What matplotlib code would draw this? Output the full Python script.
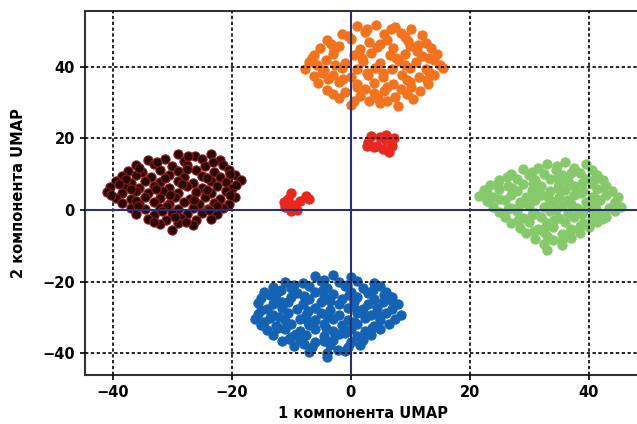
import numpy as np
import matplotlib.pyplot as plt

# cluster points (x = 1 компонента, y = 2 компонента)
orange_pts = [
    (1, 51.5), (4.2, 51.8), (7.5, 51), (10.2, 50.6),
    (-1.5, 49.3), (2.5, 49.8), (5.6, 49.2), (8.4, 49.6), (12, 48.8),
    (-4, 47.4), (0, 47.8), (3.1, 47), (6.2, 47.6), (9.6, 47.2), (12.6, 46.8),
    (-5.2, 45.3), (-2, 45.8), (1.6, 45.1), (4.5, 45.6), (7.1, 45.2), (10, 45.7), (13.5, 45.2),
    (-6.1, 43.4), (-3, 43.7), (0.5, 43.2), (3.5, 43.8), (6.6, 43.3), (9.1, 43.6), (12, 43.1), (14.6, 43.5),
    (-7, 41.4), (-4.1, 41.8), (-1, 41.2), (2, 41.6), (5, 41.1), (8.1, 41.7), (11, 41.3), (14, 41.8),
    (-7.6, 39.5), (-4.5, 39.2), (-1.5, 39.7), (1, 39.3), (4.1, 39.8), (7, 39.4), (10, 39.8), (12.6, 39.3), (15.5, 39.7),
    (-6.2, 37.4), (-3, 37.8), (0, 37.2), (3, 37.6), (5.5, 37.1), (8.6, 37.7), (11.5, 37.3), (14.1, 37.6),
    (-5.5, 35.4), (-2, 35.8), (1, 35.2), (4, 35.6), (7.1, 35.1), (10, 35.7), (13, 35.3),
    (-4, 33.5), (-1, 33.1), (2.5, 33.8), (5.6, 33.3), (8.5, 33.7), (11.6, 33.2),
    (-2, 31.4), (1.5, 31.8), (4.6, 31.2), (7.5, 31.6), (10.5, 31.1),
    (0, 29.4), (5, 29.8), (8, 29.2),
    (-0.5, 48.6), (6.8, 50.5), (-2.8, 44.6), (11.2, 44.4), (-5.6, 40.6), (2.8, 38.4),
    (12.9, 36.2), (-3.8, 36.6), (6.2, 34.4), (3.1, 30.6),
    (2.8, 50.7), (9.2, 48.3), (-3.3, 46.4), (5, 46.5), (11.4, 46.1), (-6.5, 42.5),
    (1.9, 42.6), (7.6, 42.5), (13.2, 42.5), (-2.6, 40.5), (9.1, 40.6), (15, 40.4),
    (-4.8, 38.4), (5.4, 38.4), (13.2, 38.5), (-1.2, 36.5), (9.5, 36.4), (1, 34.4),
    (10.2, 34.5), (-3, 32.5), (4, 32.6), (9.4, 32.5), (6.2, 30.4), (0.5, 30.5),
]
brown_pts = [
    (-29, 15.6), (-26.1, 15.2), (-23.5, 15.7),
    (-34, 14), (-31.2, 14.4), (-28, 13.8), (-25, 14.2), (-22, 13.9),
    (-36, 12.5), (-33, 12.8), (-30, 12.2), (-27.5, 12.6), (-24.5, 12.3), (-21.5, 12.7),
    (-37.5, 11), (-35, 10.7), (-32, 11.3), (-29, 10.8), (-26, 11.2), (-23, 10.7), (-20.5, 11.1),
    (-38.5, 9.5), (-36, 9.8), (-33.5, 9.3), (-30.5, 9.7), (-28, 9.2), (-25, 9.6), (-22, 9.3), (-19.5, 9.8),
    (-39.5, 8), (-37, 7.7), (-34.5, 8.2), (-32, 7.8), (-29, 8.2), (-26.5, 7.7), (-23.5, 8.1), (-21, 7.8), (-18.5, 8.3),
    (-40.5, 6.5), (-38, 6.8), (-35.5, 6.3), (-33, 6.7), (-30.5, 6.2), (-27.5, 6.6), (-25, 6.2), (-22.5, 6.7), (-20, 6.3),
    (-41, 5), (-38.5, 4.7), (-36, 5.2), (-34, 4.8), (-31.5, 5.2), (-29, 4.7), (-26, 5.1), (-23.5, 4.8), (-21, 5.2),
    (-39.5, 3.5), (-37, 3.2), (-34.5, 3.7), (-32, 3.3), (-29.5, 3.8), (-27, 3.2), (-24.5, 3.6), (-22, 3.2), (-19.5, 3.6),
    (-38.5, 2), (-35.5, 1.7), (-33, 2.2), (-30.5, 1.8), (-28, 2.2), (-25.5, 1.7), (-23, 2.1), (-20.5, 1.8),
    (-37, 0.5), (-34.5, 0.2), (-32, 0.7), (-29, 0.3), (-26.5, 0.7), (-24, 0.2), (-21.5, 0.6),
    (-36, -1), (-33, -1.3), (-30, -0.8), (-27.5, -1.2), (-25, -0.7), (-22.5, -1.1),
    (-34, -2.5), (-31, -2.8), (-28.5, -2.3), (-26, -2.7), (-23.5, -2.4),
    (-32, -4), (-29, -3.7), (-26.5, -4.2),
    (-30, -5.5),
    (-27.4, 15), (-32.6, 13.4), (-23.1, 13.3), (-35.5, 11.8), (-27.5, 11.6), (-20.2, 10.2),
    (-37.8, 8.6), (-31.2, 9), (-24.1, 9.1), (-39, 7.3), (-28.4, 7.4), (-19.3, 7.1),
    (-36.9, 5.9), (-32.8, 5.8), (-24.2, 5.7), (-40.2, 4.2), (-30.3, 4.3), (-20.3, 4.3),
    (-36.1, 2.6), (-26.4, 2.8), (-35.8, 1.1), (-30.9, 1.2), (-22.4, 1.2), (-31.7, -0.3),
    (-23.8, -0.1), (-29.5, -1.9), (-27.6, -3.2), (-33.1, -3.3),
]
green_pts = [
    (33, 13), (36, 13.4), (39.5, 12.8),
    (29, 11.5), (31.5, 11.8), (34.5, 11.2), (37.5, 11.7), (40.5, 11.3),
    (27, 10), (30, 9.7), (32.5, 10.2), (35.5, 9.8), (38.5, 10.3), (41.5, 9.9),
    (25, 8.5), (28, 8.8), (31, 8.3), (33.5, 8.7), (36.5, 8.2), (39.5, 8.7), (42.5, 8.4),
    (23.5, 7), (26.5, 6.7), (29, 7.2), (32, 6.8), (35, 7.3), (37.5, 6.8), (40.5, 7.2), (43, 6.8),
    (22.5, 5.5), (25, 5.8), (28, 5.3), (30.5, 5.7), (33.5, 5.2), (36, 5.7), (39, 5.3), (41.5, 5.8), (44, 5.3),
    (21.5, 4), (24, 3.7), (27, 4.2), (29.5, 3.8), (32, 4.3), (35, 3.8), (37.5, 4.2), (40.5, 3.7), (43, 4.1), (45, 3.7),
    (23, 2.5), (26, 2.8), (28.5, 2.3), (31, 2.7), (34, 2.2), (36.5, 2.7), (39.5, 2.3), (42, 2.8), (44.5, 2.3),
    (24, 1), (27, 0.7), (30, 1.2), (32.5, 0.8), (35.5, 1.2), (38, 0.7), (41, 1.1), (43.5, 0.7), (45.5, 1),
    (25, -0.5), (28, -0.2), (31, -0.7), (33.5, -0.3), (36.5, -0.8), (39, -0.3), (42, -0.7), (44.5, -0.3),
    (26, -2), (29, -2.3), (32, -1.8), (35, -2.2), (37.5, -1.8), (40.5, -2.2), (43, -1.8),
    (27, -3.5), (30, -3.2), (33, -3.7), (36, -3.3), (39, -3.7), (41.5, -3.3),
    (28.5, -5), (31.5, -5.3), (34, -4.8), (37, -5.2), (40, -4.8),
    (29.5, -6.5), (32.5, -6.2), (35.5, -6.7), (38.5, -6.3),
    (31, -8), (34, -8.3), (37, -7.8),
    (32.5, -9.5), (35.5, -9.8),
    (33, -11.2),
    (34.7, 12.4), (30.5, 10.7), (37, 10.5), (26.3, 9.2), (34.9, 9), (41, 8.8),
    (24.8, 7.6), (30.6, 7.6), (38.9, 7.5), (27.2, 6.1), (34.8, 6.2), (42.8, 6.1),
    (22.9, 4.7), (31, 4.7), (38.8, 4.7), (25, 3.2), (33.4, 3.2), (41.3, 3.1),
    (28.4, 1.6), (37, 1.7), (44.6, 1.6), (26.5, 0.2), (34.6, 0.1), (40.6, 0.2),
    (30.5, -1.3), (38.9, -1.2), (28.2, -2.9), (34.2, -2.7), (42.3, -2.6), (32.8, -4.4),
    (38.6, -4.3), (30.9, -5.8), (36.8, -6), (33, -7.3), (35.6, -8.5),
]
blue_pts = [
    (-6, -18.5), (-3, -18.2), (0, -18.7),
    (-11, -20), (-8, -20.3), (-5, -19.8), (-2, -20.2), (1, -19.8), (4, -20.3),
    (-13, -21.5), (-10, -21.8), (-7, -21.3), (-4, -21.7), (-1, -21.2), (2, -21.7), (5, -21.3),
    (-14.5, -23), (-12, -22.7), (-9, -23.2), (-6, -22.8), (-3, -23.3), (0, -22.8), (3, -23.2), (6, -22.8),
    (-15, -24.5), (-12.5, -24.8), (-10, -24.3), (-7, -24.7), (-4.5, -24.2), (-1.5, -24.7), (1, -24.3), (4, -24.8), (7, -24.4),
    (-15.5, -26), (-13, -26.3), (-10.5, -25.8), (-8, -26.2), (-5, -25.7), (-2, -26.2), (0.5, -25.8), (3, -26.3), (5.5, -25.8), (8, -26.2),
    (-14, -27.5), (-11.5, -27.2), (-9, -27.7), (-6, -27.3), (-3.5, -27.8), (-0.5, -27.3), (2, -27.7), (4.5, -27.2), (7, -27.6),
    (-15.5, -29), (-13, -29.3), (-10.5, -28.8), (-7.5, -29.2), (-5, -28.8), (-2, -29.3), (1, -28.8), (3.5, -29.2), (6, -28.8), (8.5, -29.2),
    (-16, -30.5), (-13.5, -30.2), (-11, -30.7), (-8.5, -30.3), (-6, -30.8), (-3, -30.3), (-0.5, -30.7), (2.5, -30.2), (5, -30.7), (7.5, -30.3),
    (-15, -32), (-12.5, -32.3), (-10, -31.8), (-7, -32.2), (-4.5, -31.7), (-1.5, -32.2), (1, -31.8), (4, -32.3), (6.5, -31.8),
    (-14, -33.5), (-11, -33.2), (-8.5, -33.7), (-6, -33.3), (-3, -33.8), (0, -33.3), (2.5, -33.7), (5, -33.2),
    (-13, -35), (-10, -35.3), (-7.5, -34.8), (-4.5, -35.2), (-2, -34.7), (1, -35.2), (3.5, -34.8),
    (-11.5, -36.5), (-8.5, -36.2), (-6, -36.7), (-3, -36.3), (0, -36.8), (2, -36.3),
    (-9.5, -38), (-6.5, -38.3), (-3.5, -37.8), (-0.5, -38.2), (1.5, -37.8),
    (-7, -39.5), (-4, -39.8), (-1, -39.3),
    (-4, -41),
    (-4.4, -19.4), (-9.5, -20.9), (-0.6, -20.8), (-11.7, -22.3), (-4.6, -22.4), (3.8, -22.2),
    (-13.6, -23.8), (-7.9, -23.9), (-0.3, -23.8), (5.6, -23.7), (-11.6, -25.6), (-3.4, -25.4),
    (6.9, -25.3), (-15, -27.9), (-7.2, -28.1), (1.1, -28), (-12, -29.8), (-3.9, -29.7),
    (4.7, -29.6), (-14.5, -31.2), (-7.1, -31.2), (0.6, -31.3), (-12.2, -32.9), (-4.2, -32.8),
    (3.6, -32.9), (-9.2, -34.5), (-1, -34.3), (-10.3, -36.1), (-4.4, -36.5), (-7.9, -37.3),
    (-2.2, -39),
]
red_pts = [
    (-11, 1), (-10.5, 3), (-10, 4.8), (-9.5, 1.5), (-9, 0), (-8.5, 2.5),
    (-7.5, 4), (-7, 3.2), (-11.2, 2.2), (-10, -0.2),
    (3, 19), (3.5, 20.8), (4.5, 18), (5, 20.5), (5.5, 17), (6, 19.5),
    (6.5, 16.2), (7, 18), (7.3, 20), (4, 17.5), (6, 21), (2.8, 18),
]

xticks = [-40, -20, 0, 20, 40]
yticks = [-40, -20, 0, 20, 40]

fig = plt.figure(figsize=(6.37, 4.24), dpi=100)
ax = fig.add_axes([0.133, 0.116, 0.875, 0.858])

# grid and zero lines sit on top of the dots in the original
ax.set_axisbelow(False)
ax.grid(True, color='black', linestyle=(0, (2, 1.5)), linewidth=1.2)
ax.axhline(0, color='#2b2f7a', linewidth=1.5, zorder=3)
ax.axvline(0, color='#2b2f7a', linewidth=1.5, zorder=3)

s = 44
for pts, face, edge in [
    (orange_pts, '#f2731e', '#f2731e'),
    (brown_pts, '#2a0707', '#8a1c1c'),
    (green_pts, '#86c96a', '#86c96a'),
    (blue_pts, '#1462b4', '#1462b4'),
    (red_pts, '#e8281e', '#e8281e'),
]:
    arr = np.array(pts)
    ax.scatter(arr[:, 0], arr[:, 1], s=s, c=face, edgecolors=edge, linewidths=0.8, zorder=2)

ax.set_xlim(-44.7, 49)
ax.set_ylim(-46, 55.6)
ax.set_xticks(xticks)
ax.set_yticks(yticks)
ax.tick_params(labelsize=10.5, width=1.2)
for lab in ax.get_xticklabels() + ax.get_yticklabels():
    lab.set_fontweight('bold')
for sp in ax.spines.values():
    sp.set_color('#333333')
    sp.set_linewidth(1.5)

ax.set_xlabel('1 компонента UMAP', fontsize=10.5, fontweight='bold', labelpad=5)
ax.set_ylabel('2 компонента UMAP', fontsize=10.5, fontweight='bold', labelpad=12)

fig.savefig('out.png', dpi=100)
